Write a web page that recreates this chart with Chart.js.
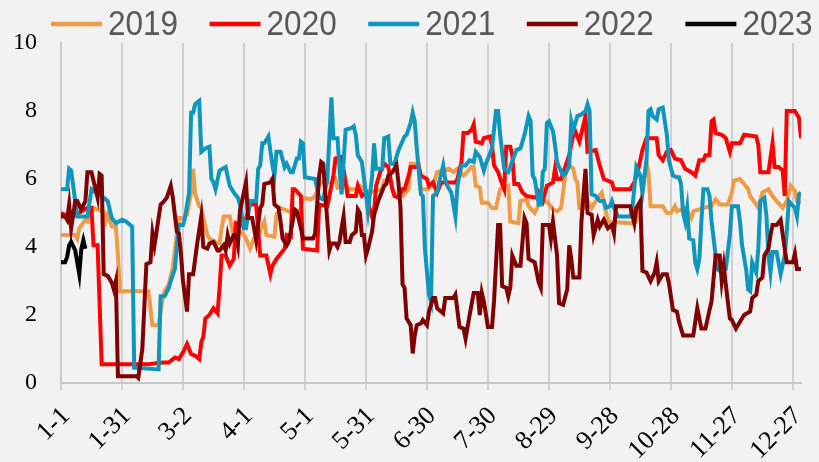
<!DOCTYPE html>
<html>
<head>
<meta charset="utf-8">
<script src="https://cdn.jsdelivr.net/npm/chart.js@4.4.1/dist/chart.umd.min.js"></script>
<style>
  html, body { margin: 0; padding: 0; background: #f2f2f2; }
  canvas { display: block; }
</style>
</head>
<body>
<canvas id="dataChart" width="819" height="462"></canvas>
<script>
// Popisky osy x (den v roce, krok 30 dni)
const tickLabels = ['1-1', '1-31', '3-2', '4-1', '5-1', '5-31', '6-30', '7-30', '8-29', '9-28', '10-28', '11-27', '12-27'];

const seriesNames = ['2019', '2020', '2021', '2022', '2023'];
const seriesColors = ['#ef9b48', '#ff0000', '#0e96bc', '#800000', '#000000'];

// Data - den v roce (0 = 1.1.) a hodnota
const days2019 = [0, 7, 8, 9, 12, 13, 16, 18, 21, 22, 23, 25, 27, 28, 29, 43, 45, 48, 50, 51,
  53, 55, 58, 60, 62, 64, 65, 66, 68, 69, 71, 72, 73, 77, 78, 79, 80, 83, 85, 89,
  91, 93, 95, 97, 100, 101, 105, 106, 108, 114, 117, 119, 123, 125, 127, 128, 133, 135, 136, 140,
  142, 145, 147, 151, 158, 159, 162, 163, 165, 168, 171, 172, 176, 177, 180, 183, 185, 191, 193, 195,
  198, 202, 203, 204, 206, 207, 210, 212, 214, 216, 220, 221, 225, 226, 229, 230, 233, 235, 239, 242,
  244, 246, 248, 250, 252, 253, 254, 255, 258, 259, 261, 263, 266, 267, 269, 280, 283, 285, 286, 288,
  289, 290, 296, 298, 300, 302, 303, 307, 310, 311, 316, 320, 322, 324, 328, 330, 331, 334, 336, 338,
  339, 342, 343, 345, 348, 350, 352, 355, 357, 359, 361, 362, 364];
const vals2019 = [4.35, 4.35, 4.25, 4.55, 4.8, 4.75, 5.15, 5.1, 5.05, 4.75, 4.95, 4.6, 4.6, 3.75, 2.7, 2.7, 1.7, 1.7, 2.5, 2.7,
  2.9, 3.4, 4.85, 4.85, 4.95, 5.6, 6.3, 5.55, 5.2, 5.15, 4.6, 4.35, 4.25, 4.1, 4.1, 4.55, 4.9, 4.9, 4.3, 4.45,
  4.25, 3.95, 4.25, 4.35, 4.75, 4.35, 4.3, 4.95, 5.15, 5.0, 4.9, 5.45, 5.4, 5.5, 5.8, 5.9, 5.9, 6.0, 5.75, 5.85,
  5.7, 5.7, 5.8, 5.6, 5.7, 5.95, 5.95, 5.7, 5.5, 5.5, 5.7, 6.45, 6.45, 5.7, 5.7, 5.8, 6.2, 6.3, 6.2, 6.3,
  6.1, 6.35, 6.35, 5.8, 5.75, 5.3, 5.3, 5.15, 5.15, 5.7, 5.8, 4.75, 4.7, 5.35, 5.4, 5.2, 5.0, 5.25, 5.35, 5.1,
  5.05, 5.15, 6.1, 6.4, 6.3, 6.0, 5.9, 5.15, 5.15, 5.35, 5.15, 5.35, 5.6, 5.35, 4.75, 4.7, 4.75, 5.15, 5.6, 6.5,
  6.2, 5.2, 5.2, 5.0, 5.0, 5.2, 5.05, 5.15, 4.85, 5.05, 5.15, 5.2, 5.4, 5.25, 5.25, 5.6, 5.95, 6.0, 5.85, 5.7,
  5.5, 5.25, 5.15, 5.6, 5.7, 5.5, 5.35, 5.15, 5.35, 5.8, 5.65, 5.35, 5.3];

const days2020 = [0, 2, 4, 7, 13, 15, 16, 18, 20, 35, 43, 50, 53, 56, 58, 60, 62, 64, 66, 68,
  69, 70, 71, 73, 75, 77, 78, 79, 81, 83, 85, 86, 90, 93, 96, 98, 101, 103, 104, 106,
  110, 111, 113, 114, 115, 118, 119, 126, 127, 131, 134, 135, 138, 140, 141, 145, 146, 148, 150, 151,
  153, 154, 155, 157, 159, 161, 163, 164, 166, 168, 169, 171, 172, 176, 177, 180, 181, 183, 185, 187,
  194, 195, 197, 198, 200, 202, 203, 204, 207, 208, 211, 212, 213, 215, 217, 218, 219, 221, 222, 223,
  225, 227, 229, 234, 235, 237, 239, 242, 243, 244, 246, 250, 252, 253, 255, 258, 259, 263, 265, 267,
  271, 272, 280, 282, 284, 286, 288, 293, 294, 296, 298, 300, 302, 305, 307, 310, 312, 314, 316, 317,
  319, 320, 321, 322, 325, 327, 329, 330, 334, 336, 342, 343, 344, 348, 350, 351, 353, 355, 356, 357,
  361, 363, 364];
const vals2020 = [5.0, 4.95, 4.85, 4.95, 5.15, 5.15, 4.05, 4.05, 0.55, 0.55, 0.55, 0.6, 0.6, 0.75, 0.7, 0.9, 1.15, 0.85, 0.8, 0.7,
  1.2, 1.35, 1.9, 2.0, 2.2, 2.05, 2.8, 3.75, 3.75, 3.45, 3.65, 4.7, 4.6, 5.25, 5.25, 3.75, 3.75, 3.2, 3.45, 3.65,
  3.95, 4.35, 4.3, 5.7, 5.7, 5.5, 3.95, 3.9, 5.25, 5.2, 6.1, 6.6, 6.65, 5.9, 5.5, 5.5, 5.8, 5.5, 5.6, 5.3,
  4.9, 5.05, 5.8, 6.2, 6.45, 6.35, 5.7, 5.5, 5.45, 5.7, 5.7, 6.1, 6.35, 6.35, 6.1, 6.0, 5.8, 5.9, 5.6, 5.9,
  5.9, 6.0, 6.5, 7.35, 7.35, 7.45, 7.6, 7.1, 7.05, 7.2, 7.25, 7.0, 6.4, 6.2, 5.85, 5.7, 6.95, 6.95, 6.7, 5.85,
  5.85, 5.6, 5.5, 5.45, 5.6, 5.35, 5.8, 5.9, 6.3, 6.0, 6.0, 6.7, 7.3, 7.4, 7.1, 7.85, 6.8, 6.85, 6.4, 6.0,
  5.9, 5.7, 5.7, 5.9, 6.3, 6.85, 7.2, 7.2, 6.7, 6.55, 6.8, 6.85, 6.6, 6.55, 6.3, 6.2, 6.1, 6.55, 6.55, 6.7,
  6.7, 7.7, 7.75, 7.35, 7.3, 7.2, 6.8, 7.05, 7.05, 7.3, 7.25, 7.0, 6.2, 6.2, 7.05, 6.35, 6.35, 6.25, 5.5, 8.0,
  8.0, 7.8, 7.2];

const days2021 = [0, 3, 4, 5, 8, 13, 15, 18, 21, 23, 25, 27, 30, 32, 35, 36, 48, 49, 51, 53,
  54, 56, 58, 60, 61, 63, 64, 65, 66, 68, 69, 71, 73, 74, 75, 76, 78, 81, 83, 85,
  87, 88, 90, 91, 93, 96, 97, 98, 99, 100, 102, 104, 105, 106, 108, 110, 111, 113, 114, 116,
  117, 118, 119, 120, 125, 127, 129, 131, 133, 134, 136, 137, 138, 140, 143, 144, 145, 146, 148, 150,
  151, 153, 154, 155, 158, 159, 161, 162, 164, 166, 169, 170, 172, 173, 174, 175, 177, 178, 179, 181,
  182, 183, 185, 186, 188, 189, 190, 192, 194, 195, 197, 199, 201, 203, 204, 206, 208, 209, 212, 214,
  215, 216, 218, 220, 224, 226, 228, 230, 231, 232, 233, 235, 236, 237, 238, 239, 240, 242, 243, 244,
  245, 247, 248, 250, 251, 252, 254, 256, 258, 259, 260, 261, 263, 265, 267, 268, 270, 271, 272, 274,
  280, 281, 283, 285, 286, 288, 289, 290, 291, 293, 294, 296, 298, 299, 301, 303, 304, 305, 306, 307,
  308, 309, 311, 312, 313, 314, 315, 316, 318, 319, 320, 322, 323, 325, 327, 329, 330, 333, 334, 335,
  337, 338, 339, 340, 342, 343, 344, 346, 347, 348, 349, 350, 352, 354, 356, 357, 358, 361, 362, 363,
  364];
const vals2021 = [5.7, 5.7, 6.3, 6.25, 4.9, 4.9, 5.7, 5.55, 5.45, 5.35, 4.85, 4.7, 4.8, 4.75, 4.6, 0.45, 0.4, 2.55, 2.55, 2.8,
  3.0, 3.35, 4.65, 4.65, 4.85, 5.6, 7.95, 7.95, 8.2, 8.3, 6.8, 6.9, 6.95, 6.0, 5.9, 5.7, 6.25, 6.35, 5.8, 5.6,
  5.45, 5.25, 4.55, 4.55, 5.35, 5.35, 6.3, 6.4, 7.05, 7.05, 7.25, 6.4, 6.1, 6.8, 6.8, 6.35, 6.45, 6.2, 6.2, 6.6,
  6.6, 7.1, 7.05, 6.05, 6.0, 5.45, 5.4, 6.0, 8.4, 7.2, 7.2, 6.3, 5.55, 7.45, 7.5, 7.55, 7.3, 6.7, 6.5, 5.55,
  5.05, 6.05, 7.05, 6.3, 6.3, 7.2, 7.25, 6.45, 6.45, 6.85, 7.25, 7.3, 7.65, 7.95, 7.7, 6.9, 5.55, 5.5, 3.95, 2.6,
  2.4, 5.5, 5.6, 5.9, 6.4, 6.0, 5.8, 5.6, 4.9, 5.8, 6.4, 6.4, 6.55, 6.5, 6.8, 6.65, 6.25, 6.45, 6.9, 8.0,
  8.0, 7.3, 6.3, 6.2, 6.85, 6.9, 7.3, 7.85, 7.7, 6.1, 6.0, 5.25, 5.25, 6.2, 6.3, 7.65, 7.7, 7.4, 7.0, 6.5,
  6.35, 6.1, 6.15, 6.4, 7.7, 7.45, 7.85, 7.9, 8.0, 8.2, 8.0, 5.55, 5.5, 5.35, 5.35, 5.15, 5.2, 5.35, 5.15, 4.9,
  4.9, 5.1, 6.35, 6.1, 5.6, 6.55, 8.0, 8.05, 7.85, 7.75, 8.05, 8.1, 7.3, 6.55, 6.1, 6.05, 6.05, 5.85, 5.0, 4.75,
  5.15, 4.25, 4.2, 3.55, 3.35, 3.65, 4.75, 5.7, 5.7, 5.5, 4.75, 3.75, 3.35, 3.25, 3.35, 4.35, 5.2, 5.2, 4.75, 4.05,
  3.35, 2.75, 2.7, 3.55, 3.25, 3.95, 5.35, 5.45, 4.9, 3.75, 3.25, 3.85, 3.85, 3.2, 3.75, 4.45, 5.35, 5.15, 4.9, 5.55,
  5.6];

const days2022 = [0, 2, 3, 4, 5, 7, 8, 10, 12, 13, 15, 18, 19, 20, 21, 23, 25, 26, 27, 28,
  37, 38, 40, 42, 44, 45, 46, 47, 49, 50, 52, 54, 55, 57, 58, 59, 60, 62, 63, 65,
  67, 69, 70, 72, 73, 75, 77, 78, 80, 81, 82, 83, 85, 86, 87, 88, 91, 92, 94, 95,
  96, 98, 99, 100, 103, 104, 105, 107, 108, 109, 111, 112, 113, 115, 116, 118, 119, 124, 125, 127,
  128, 129, 130, 131, 132, 133, 135, 136, 137, 138, 139, 140, 142, 143, 145, 146, 147, 148, 149, 150,
  151, 153, 154, 156, 158, 159, 160, 161, 163, 165, 166, 167, 168, 169, 170, 172, 173, 174, 175, 177,
  178, 180, 181, 183, 184, 185, 188, 189, 193, 194, 196, 198, 199, 201, 203, 205, 206, 207, 208, 210,
  212, 213, 215, 216, 217, 219, 220, 221, 222, 224, 226, 228, 229, 230, 233, 235, 236, 237, 240, 241,
  242, 244, 245, 247, 249, 250, 251, 252, 255, 256, 258, 259, 261, 262, 264, 265, 267, 269, 271, 272,
  273, 280, 282, 283, 285, 286, 288, 290, 292, 293, 294, 296, 298, 299, 301, 303, 304, 306, 307, 311,
  313, 315, 317, 319, 320, 322, 324, 325, 326, 327, 329, 330, 332, 334, 336, 339, 340, 342, 343, 345,
  346, 348, 349, 350, 352, 354, 356, 357, 360, 361, 362, 364];
const vals2022 = [4.9, 4.9, 4.8, 5.25, 4.55, 5.35, 5.35, 5.1, 5.35, 6.2, 6.2, 5.45, 6.15, 6.1, 3.2, 3.15, 2.95, 2.75, 3.0, 0.2,
  0.2, 0.15, 1.0, 3.5, 3.55, 4.4, 4.05, 4.45, 5.25, 5.3, 5.45, 5.8, 5.45, 4.45, 4.4, 3.8, 3.0, 2.1, 3.2, 3.2,
  4.1, 4.9, 4.0, 3.95, 4.1, 4.15, 3.9, 3.9, 4.05, 3.9, 4.35, 4.1, 4.35, 4.35, 4.05, 5.05, 5.9, 4.85, 4.85, 4.55,
  4.2, 5.15, 5.25, 5.85, 5.9, 6.0, 5.25, 5.15, 4.75, 4.25, 4.05, 4.15, 4.45, 5.1, 5.05, 4.55, 4.25, 4.25, 4.4, 6.1,
  6.5, 6.45, 5.55, 4.75, 3.9, 4.1, 4.1, 4.0, 4.15, 4.55, 4.9, 4.15, 4.15, 4.35, 4.45, 5.1, 5.0, 4.35, 4.35, 3.75,
  3.95, 4.45, 4.95, 5.35, 5.65, 5.8, 5.85, 6.1, 6.2, 6.4, 5.9, 5.15, 2.9, 2.8, 1.9, 1.7, 0.87, 1.4, 1.7, 1.75,
  1.85, 1.7, 2.1, 2.5, 2.5, 2.2, 2.05, 2.5, 2.5, 2.6, 1.65, 1.6, 1.3, 2.0, 2.65, 2.65, 2.0, 2.65, 2.4, 1.65,
  1.65, 2.4, 4.65, 4.65, 2.85, 2.8, 2.55, 2.8, 3.75, 3.45, 3.45, 4.85, 4.7, 3.65, 3.55, 2.95, 2.8, 4.65, 4.65, 4.25,
  4.75, 3.75, 2.35, 2.3, 2.75, 4.05, 3.65, 3.1, 3.1, 4.75, 6.3, 5.0, 4.95, 4.35, 4.8, 4.6, 4.8, 4.55, 4.65, 4.4,
  5.2, 5.2, 4.7, 5.15, 5.35, 3.3, 3.25, 3.0, 3.25, 3.55, 3.0, 3.2, 3.2, 2.95, 2.15, 2.1, 1.8, 1.4, 1.4, 1.4,
  2.2, 1.6, 1.6, 2.15, 2.4, 3.75, 3.75, 3.0, 3.45, 2.9, 1.9, 1.85, 1.6, 1.8, 2.0, 2.1, 2.5, 2.6, 3.0, 3.1,
  3.75, 3.95, 4.35, 4.65, 4.65, 4.8, 3.95, 3.55, 3.55, 3.8, 3.35, 3.35];

const days2023 = [0, 2, 3, 4, 5, 7, 8, 9, 10, 11, 12];
const vals2023 = [3.55, 3.55, 3.7, 4.05, 4.15, 3.9, 3.55, 3.2, 3.95, 4.2, 3.95];

const seriesDays = [days2019, days2020, days2021, days2022, days2023];
const seriesVals = [vals2019, vals2020, vals2021, vals2022, vals2023];

// Legenda - cara + rok, vykreslena nad grafem
const lineLegend = {
    id: 'lineLegend',
    afterDraw(chart) {
        const c = chart.ctx;
        c.save();
        chart.data.datasets.forEach((ds, i) => {
            const x = 51 + i * 158.6;
            c.strokeStyle = ds.borderColor;
            c.lineWidth = 4.5;
            c.beginPath();
            c.moveTo(x, 24);
            c.lineTo(x + 51, 24);
            c.stroke();
            c.save();
            c.translate(x + 57, 35);
            c.scale(0.9, 1);
            c.fillStyle = '#595959';
            c.font = '35px "Liberation Sans", Arial, sans-serif';
            c.fillText(ds.label, 0, 0);
            c.restore();
        });
        c.restore();
    }
};

const ctx = document.getElementById('dataChart').getContext('2d');

dataChart = new Chart(ctx, {
    type: 'line',
    data: {
        datasets: seriesNames.map((name, i) => ({
            label: name,
            data: seriesDays[i].map((d, j) => ({ x: d, y: seriesVals[i][j] })),
            borderColor: seriesColors[i],
            backgroundColor: seriesColors[i],
            borderWidth: 4,
            pointRadius: 0,
            tension: 0,
            fill: false,
            order: seriesNames.length - 1 - i
        }))
    },
    options: {
        responsive: false,
        animation: false,
        layout: { padding: { top: 43, right: 18, left: 0, bottom: 0 } },
        plugins: {
            legend: { display: false },
            tooltip: { enabled: false }
        },
        scales: {
            x: {
                type: 'linear',
                min: 0,
                max: 364,
                afterBuildTicks: (scale) => {
                    scale.ticks = tickLabels.map((_, i) => ({ value: i * 30 }));
                },
                afterFit: (scale) => {
                    // pevna vyska osy, bez extra okraju pro otocene popisky
                    scale.height = 79;
                    scale.paddingLeft = 0;
                    scale.paddingRight = 0;
                },
                ticks: {
                    autoSkip: false,
                    maxRotation: 45,
                    minRotation: 45,
                    padding: 11,
                    labelOffset: 5,
                    color: '#000',
                    font: { family: '"Liberation Serif", "Times New Roman", serif', size: 26 },
                    callback: (value) => tickLabels[Math.round(value / 30)]
                },
                grid: { color: '#d0d0d0', lineWidth: 2, drawTicks: true, tickLength: 7 },
                border: { display: true, color: '#c8c8c8', width: 2 }
            },
            y: {
                min: 0,
                max: 10,
                afterFit: (scale) => { scale.width = 61; },
                ticks: {
                    stepSize: 2,
                    padding: 24,
                    color: '#000',
                    font: { family: '"Liberation Serif", "Times New Roman", serif', size: 24 }
                },
                grid: { display: false, drawTicks: false },
                border: { display: true, color: '#c8c8c8', width: 2 }
            }
        }
    },
    plugins: [lineLegend]
});
</script>
</body>
</html>
